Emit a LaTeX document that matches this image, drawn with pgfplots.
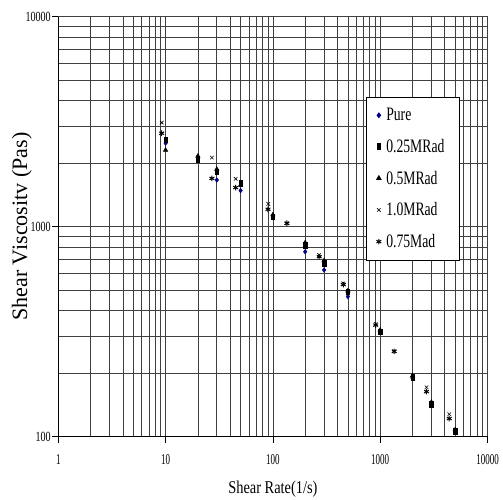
\documentclass[border=0pt]{standalone}
\usepackage{pgfplots}
\pgfplotsset{compat=1.18}
\usepackage{fontspec}
\setmainfont{Liberation Serif}
\newfontfamily\condA[FakeStretch=0.6]{Liberation Serif}
\newfontfamily\condB[FakeStretch=0.72]{Liberation Serif}
\newfontfamily\condC[FakeStretch=0.8]{Liberation Serif}
\definecolor{navyb}{RGB}{0,0,128}
\begin{document}
\begin{tikzpicture}[x=1pt,y=1pt]
\useasboundingbox (-58.3,-63.3) rectangle (444.7,436.7);
\begin{axis}[
  at={(0,0)}, anchor=south west,
  scale only axis, width=429.2pt, height=420pt,
  xmode=log, ymode=log,
  xmin=1, xmax=10000, ymin=100, ymax=10000,
  axis x line*=bottom, axis y line*=left,
  axis line style={-, black, line width=1pt},
  grid=both,
  major grid style={black!75, line width=0.8pt},
  minor grid style={black!75, line width=0.8pt},
  xtick={1,10,100,1000,10000}, xticklabels={1,10,100,1000,10000},
  ytick={100,1000,10000}, yticklabels={100,1000,10000},
  tick align=outside, major tick length=6pt, minor tick length=0pt,
  tick style={black, line width=0.8pt},
  xticklabel style={font=\fontsize{15}{15}\selectfont\condA, yshift=-8pt},
  yticklabel style={font=\fontsize{14}{14}\selectfont\condB, xshift=2pt},
  xlabel={Shear Rate(1/s)},
  xlabel style={font=\fontsize{18}{18}\selectfont\condC, at={(axis description cs:0.5,-0.124)}, anchor=center},
  ylabel={Shear Viscositv (Pas)},
  ylabel style={font=\fontsize{22}{22}\selectfont, at={(axis description cs:-0.085,0.5)}, anchor=center},
  legend style={at={(rel axis cs:0.717,0.809)}, anchor=north west, draw=black, line width=0.8pt, fill=white,
    font=\fontsize{19}{19}\selectfont\condB, row sep=13pt, inner xsep=10pt, inner ysep=9pt,
    nodes={inner xsep=5pt}},
  legend cell align=left,
]
\addplot[only marks, mark=diamond*, mark size=2.4pt, color=navyb] coordinates {
(10,2500)(20,2080)(30,1668)(50,1486)(100,1105)(200,760)(300,622)(500,465)(1000,314)(2000,190)(3000,142)(5000,105)};
\addlegendentry{Pure}
\addplot[only marks, mark=square*, mark size=2.3pt, mark options={xscale=0.75, yscale=1.2}, color=black] coordinates {
(10,2590)(20,2094)(30,1828)(50,1610)(100,1116)(200,818)(300,670)(500,489)(1000,316)(2000,192)(3000,143)(5000,106)};
\addlegendentry{0.25MRad}
\addplot[only marks, mark=triangle*, mark size=2.6pt, color=black] coordinates {
(10,2317)(20,2170)(30,1880)(50,1580)(100,1140)(200,840)(300,690)(500,495)(1000,322)(2000,195)(3000,146)(5000,108)};
\addlegendentry{0.5MRad}
\addplot[only marks, mark=x, mark size=2.5pt, mark options={line width=0.6pt}, color=black] coordinates {
(9.2,3130)(27,2134)(45,1690)(90.6,1283)(135,1038)(270,733)(453,537)(908,344)(1350,255)(2700,172)(4400,128)};
\addlegendentry{1.0MRad}
\addplot[only marks, mark=asterisk, mark size=2.8pt, mark options={line width=1pt}, color=black] coordinates {
(9.2,2786)(27,1698)(45,1535)(90,1210)(135,1038)(270,720)(453,530)(908,340)(1350,255)(2700,164)(4400,122)};
\addlegendentry{0.75Mad}
\end{axis}
\end{tikzpicture}
\end{document}
